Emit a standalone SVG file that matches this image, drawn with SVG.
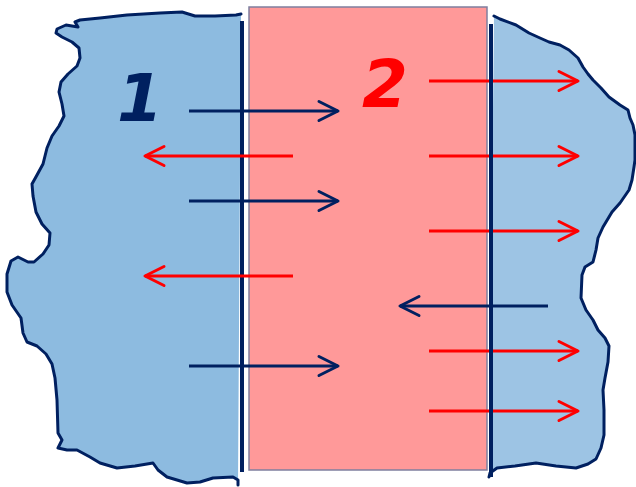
<svg xmlns="http://www.w3.org/2000/svg" width="636" height="487" viewBox="0 0 636 487">
<style>
.blob{stroke:#002060;stroke-width:3;stroke-linejoin:round;stroke-linecap:round}
.wall{stroke:#002060;stroke-width:4}
.nv{stroke:#002060;stroke-width:3;fill:none}
.rd{stroke:#ff0000;stroke-width:3;fill:none}
.lbl{font-family:"DejaVu Sans",sans-serif;font-weight:bold;font-style:italic;font-size:66px;text-anchor:middle}
</style>
<defs>
<marker id="ahN" viewBox="-24 -13 28 26" refX="0" refY="0" markerWidth="28" markerHeight="26" markerUnits="userSpaceOnUse" orient="auto">
<path d="M-19,-9.5 L0,0 L-19,9.5" fill="none" stroke="#002060" stroke-width="3" stroke-linecap="round" stroke-linejoin="round"/>
</marker>
<marker id="ahR" viewBox="-24 -13 28 26" refX="0" refY="0" markerWidth="28" markerHeight="26" markerUnits="userSpaceOnUse" orient="auto">
<path d="M-19,-9.5 L0,0 L-19,9.5" fill="none" stroke="#ff0000" stroke-width="3" stroke-linecap="round" stroke-linejoin="round"/>
</marker>
</defs>
<rect width="636" height="487" fill="#ffffff"/>
<g id="region1">
<path class="blob" fill="#8dbbe0" d="M241,14 L236,15 L215,16 L195,16 L182,12 L160,13 L127,15 L100,18 L80,20 L75,22 L78,27 L66,25 L57,29 L56,33 L62,37 L72,42 L79,48 L80,58 L77,66 L68,74 L61,82 L59,92 L62,104 L64,116 L59,126 L52,136 L47,148 L43,164 L37,175 L32,184 L33,196 L36,212 L42,224 L50,233 L49,245 L43,254 L34,262 L28,262 L18,257 L11,261 L7,274 L7,292 L12,305 L21,318 L23,333 L27,342 L37,346 L46,354 L52,364 L55,378 L57,400 L58,433 L62,440 L58,448 L67,450 L77,450 L90,457 L100,463 L117,468 L135,466 L153,463 L158,470 L167,477 L187,483 L200,482 L213,478 L233,477 L238,480 L238,485"/>
<text class="lbl" x="140" y="121" fill="#002060">1</text>
</g>
<g id="membrane">
<rect x="249" y="7" width="238" height="463" fill="#ff9999" stroke="#7f7f9f" stroke-width="1.5"/>
<text class="lbl" x="385" y="107" fill="#ff0000">2</text>
</g>
<g id="region3">
<path class="blob" fill="#9dc4e4" d="M494,16 L500,19 L516,25 L529,33 L540,38 L549,42 L560,45 L569,50 L578,58 L583,67 L588,74 L593,80 L601,88 L609,97 L620,105 L628,110 L630,118 L633,125 L635,135 L635,160 L634,167 L632,180 L629,190 L620,203 L612,212 L603,227 L598,238 L596,250 L593,262 L585,267 L582,275 L581,298 L586,310 L593,320 L598,330 L605,338 L609,346 L608,362 L605,378 L603,390 L604,410 L604,435 L601,448 L596,459 L588,464 L576,468 L556,466 L536,463 L515,466 L497,468 L490,473 L489,477"/>
</g>
<g id="wall-left">
<line class="wall" x1="242" y1="21" x2="242" y2="472"/>
</g>
<g id="connectors">
<line class="nv" x1="189" y1="111" x2="338" y2="111" marker-end="url(#ahN)"/>
<line class="nv" x1="189" y1="201" x2="338" y2="201" marker-end="url(#ahN)"/>
<line class="nv" x1="189" y1="366" x2="338" y2="366" marker-end="url(#ahN)"/>
<line class="rd" x1="293" y1="156" x2="145" y2="156" marker-end="url(#ahR)"/>
<line class="rd" x1="293" y1="276" x2="145" y2="276" marker-end="url(#ahR)"/>
<line class="rd" x1="429" y1="81" x2="578" y2="81" marker-end="url(#ahR)"/>
<line class="rd" x1="429" y1="156" x2="578" y2="156" marker-end="url(#ahR)"/>
<line class="rd" x1="429" y1="231" x2="578" y2="231" marker-end="url(#ahR)"/>
<line class="rd" x1="429" y1="351" x2="578" y2="351" marker-end="url(#ahR)"/>
<line class="rd" x1="429" y1="411" x2="578" y2="411" marker-end="url(#ahR)"/>
<line class="nv" x1="548" y1="306" x2="400" y2="306" marker-end="url(#ahN)"/>
</g>
<g id="wall-right">
<line class="wall" x1="491" y1="24" x2="491" y2="477"/>
</g>
</svg>
